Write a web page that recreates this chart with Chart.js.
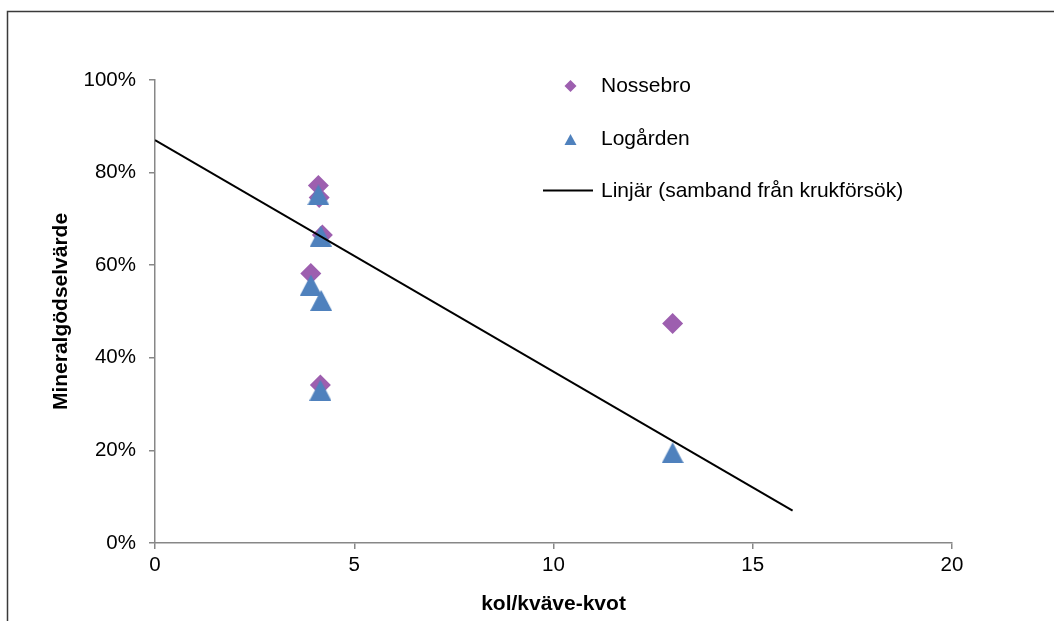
<!DOCTYPE html>
<html lang="sv">
<head>
<meta charset="UTF-8">
<title>Mineralgödselvärde</title>
<script src="https://cdn.jsdelivr.net/npm/chart.js"></script>
<style>
    body { margin: 0; background: #fff; }
    #wrap { width: 1054px; height: 621px; }
</style>
</head>
<body>
<div id="wrap"><canvas id="chart" width="1054" height="621"></canvas></div>

<script>
    // kol/kväve-kvot (x) and mineralgödselvärde (y, fraction)
    var nossebroX = [4.10, 4.12, 4.20, 3.91, 4.15, 12.99];
    var nossebroY = [0.772, 0.746, 0.665, 0.582, 0.341, 0.474];
    var logardenX = [4.10, 4.16, 3.91, 4.17, 4.15, 12.99];
    var logardenY = [0.752, 0.663, 0.557, 0.524, 0.330, 0.195];
    // linear relation from pot trials
    var lineX = [0, 16];
    var lineY = [0.87, 0.07];

    var xTicks = [0, 5, 10, 15, 20];
    var yTicks = [0, 0.2, 0.4, 0.6, 0.8, 1];

    var labels = ['Nossebro', 'Logården', 'Linjär (samband från krukförsök)'];
    var purple = '#9D5FAF';
    var blue = '#4F81BD';
    var axisGray = '#878787';
    var font = "'Liberation Sans', Arial, sans-serif";

    function toPoints(xs, ys) {
        return xs.map(function (x, i) { return { x: x, y: ys[i] }; });
    }

    // Excel style triangle marker, centred on its box
    function triangleMarker(w, h, color) {
        var c = document.createElement('canvas');
        c.width = w; c.height = h;
        var g = c.getContext('2d');
        g.fillStyle = color;
        g.beginPath();
        g.moveTo(w / 2, 0);
        g.lineTo(w, h);
        g.lineTo(0, h);
        g.closePath();
        g.fill();
        return c;
    }

    var frame = {
        id: 'frame',
        beforeDraw: function (chart) {
            var ctx = chart.ctx;
            ctx.save();
            ctx.strokeStyle = '#3a3a3a';
            ctx.lineWidth = 1.5;
            ctx.strokeRect(7.5, 11.5, 1200, 800);
            ctx.restore();
        }
    };

    var legendBox = {
        id: 'legendBox',
        afterDraw: function (chart) {
            var ctx = chart.ctx;
            ctx.save();
            ctx.font = '21px ' + font;
            ctx.fillStyle = '#000';
            ctx.textBaseline = 'middle';
            ctx.textAlign = 'left';

            // diamond
            ctx.fillStyle = purple;
            ctx.beginPath();
            ctx.moveTo(570.5, 80); ctx.lineTo(576.5, 86); ctx.lineTo(570.5, 92); ctx.lineTo(564.5, 86);
            ctx.closePath(); ctx.fill();
            ctx.fillStyle = '#000';
            ctx.fillText(labels[0], 601, 86);

            // triangle
            ctx.fillStyle = blue;
            ctx.beginPath();
            ctx.moveTo(570.5, 134); ctx.lineTo(576.5, 145); ctx.lineTo(564.5, 145);
            ctx.closePath(); ctx.fill();
            ctx.fillStyle = '#000';
            ctx.fillText(labels[1], 601, 139);

            // line
            ctx.strokeStyle = '#000';
            ctx.lineWidth = 2;
            ctx.beginPath();
            ctx.moveTo(543, 190.5); ctx.lineTo(593, 190.5);
            ctx.stroke();
            ctx.fillText(labels[2], 601, 191);
            ctx.restore();
        }
    };

    var ctx = document.getElementById('chart').getContext('2d');
    new Chart(ctx, {
        type: 'scatter',
        data: {
            datasets: [{
                label: labels[2],
                type: 'line',
                data: toPoints(lineX, lineY),
                borderColor: '#000',
                borderWidth: 2,
                pointRadius: 0,
                fill: false,
                order: 0
            }, {
                label: labels[1],
                data: toPoints(logardenX, logardenY),
                pointStyle: triangleMarker(22, 21, blue),
                backgroundColor: blue,
                borderWidth: 0,
                order: 1
            }, {
                label: labels[0],
                data: toPoints(nossebroX, nossebroY),
                pointStyle: 'rectRot',
                pointRadius: 10.5,
                backgroundColor: purple,
                borderColor: purple,
                borderWidth: 0,
                order: 2
            }]
        },
        options: {
            responsive: false,
            animation: false,
            layout: { padding: { top: 80, right: 102, left: 0, bottom: 0 } },
            plugins: {
                legend: { display: false },
                tooltip: { enabled: false }
            },
            scales: {
                x: {
                    type: 'linear',
                    min: xTicks[0],
                    max: xTicks[xTicks.length - 1],
                    afterBuildTicks: function (s) { s.ticks = xTicks.map(function (v) { return { value: v }; }); },
                    afterFit: function (s) { s.height = 78; },
                    grid: { drawOnChartArea: false, drawTicks: true, tickLength: 6, color: axisGray, lineWidth: 1.5 },
                    border: { color: axisGray, width: 1.5 },
                    ticks: { color: '#000', padding: 4, font: { family: font, size: 20.5 } },
                    title: {
                        display: true,
                        text: 'kol/kväve-kvot',
                        color: '#000',
                        font: { family: font, size: 21, weight: 'bold' },
                        padding: { top: 0, bottom: 4 }
                    }
                },
                y: {
                    type: 'linear',
                    min: yTicks[0],
                    max: yTicks[yTicks.length - 1],
                    afterBuildTicks: function (s) { s.ticks = yTicks.map(function (v) { return { value: v }; }); },
                    afterFit: function (s) { s.width = 155; },
                    grid: { drawOnChartArea: false, drawTicks: true, tickLength: 6, color: axisGray, lineWidth: 1.5 },
                    border: { color: axisGray, width: 1.5 },
                    ticks: {
                        color: '#000',
                        padding: 13,
                        font: { family: font, size: 20.5 },
                        callback: function (v) { return Math.round(v * 100) + '%'; }
                    },
                    title: {
                        display: true,
                        text: 'Mineralgödselvärde',
                        color: '#000',
                        font: { family: font, size: 21, weight: 'bold' },
                        padding: { top: 49, bottom: 0 }
                    }
                }
            }
        },
        plugins: [frame, legendBox]
    });
</script>
</body>
</html>
